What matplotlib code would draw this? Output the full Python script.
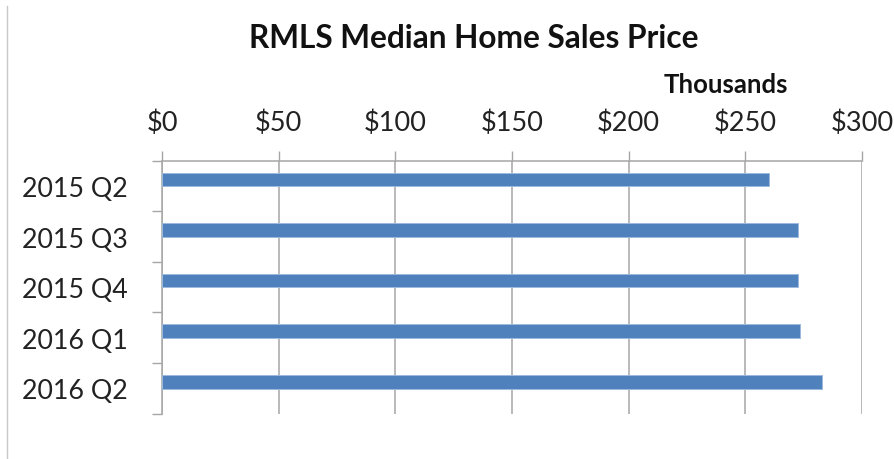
import matplotlib
matplotlib.use("Agg")
import matplotlib.pyplot as plt
from matplotlib.lines import Line2D
import numpy as np

categories = ["2015 Q2", "2015 Q3", "2015 Q4", "2016 Q1", "2016 Q2"]
values = [260.3, 272.5, 272.5, 273.3, 282.8]  # thousands of dollars
xticks = [0, 50, 100, 150, 200, 250, 300]
xtick_labels = ["$0", "$50", "$100", "$150", "$200", "$250", "$300"]
title = "RMLS Median Home Sales Price"
units_label = "Thousands"

plt.rcParams['font.family'] = ['Lato', 'DejaVu Sans']

fig = plt.figure(figsize=(8.94, 4.60), dpi=100)
ax = fig.add_axes([162/894, 1 - 414.5/460, (862 - 162)/894, (414.5 - 161.7)/460])

grid_c = '#A6A6A6'
y = np.arange(len(categories))
ax.barh(y - 0.128, values, height=0.27, color='#4F81BD', edgecolor='#9DB9DE',
        linewidth=0.7, zorder=3)

ax.set_xlim(0, 300)
ax.set_ylim(len(categories) - 0.5, -0.5)

ax.xaxis.tick_top()
ax.set_xticks(xticks)
ax.set_xticklabels(xtick_labels, fontsize=19.5, color='#222222')
ax.tick_params(axis='x', direction='out', length=7.2, width=1.0, color=grid_c, pad=11)
ax.grid(axis='x', color=grid_c, linewidth=1.1, zorder=0)

ax.set_yticks(np.arange(len(categories) + 1) - 0.5)
ax.set_yticklabels([])
ax.set_yticks(y, minor=True)
ax.set_yticklabels(categories, minor=True, fontsize=19.3, color='#222222')
ax.tick_params(axis='y', which='major', direction='out', length=7.2, width=1.0, color=grid_c)
ax.tick_params(axis='y', which='minor', length=0, pad=24.5)

for s in ['right', 'bottom']:
    ax.spines[s].set_visible(False)
for s in ['top', 'left']:
    ax.spines[s].set_color(grid_c)
    ax.spines[s].set_linewidth(1.1)

fig.text(474/894, 1 - 38/460, title, ha='center', va='center', fontsize=22.8,
         fontweight='bold', color='#111111')
fig.text(726/894, 1 - 85/460, units_label, ha='center', va='center', fontsize=18.5,
         fontweight='bold', color='#111111')

fig.add_artist(Line2D([7/894, 7/894], [0, 1 - 7/460], transform=fig.transFigure,
                      color='#C8C8C8', linewidth=1.0))

fig.savefig("out.png", dpi=100, facecolor='white')
